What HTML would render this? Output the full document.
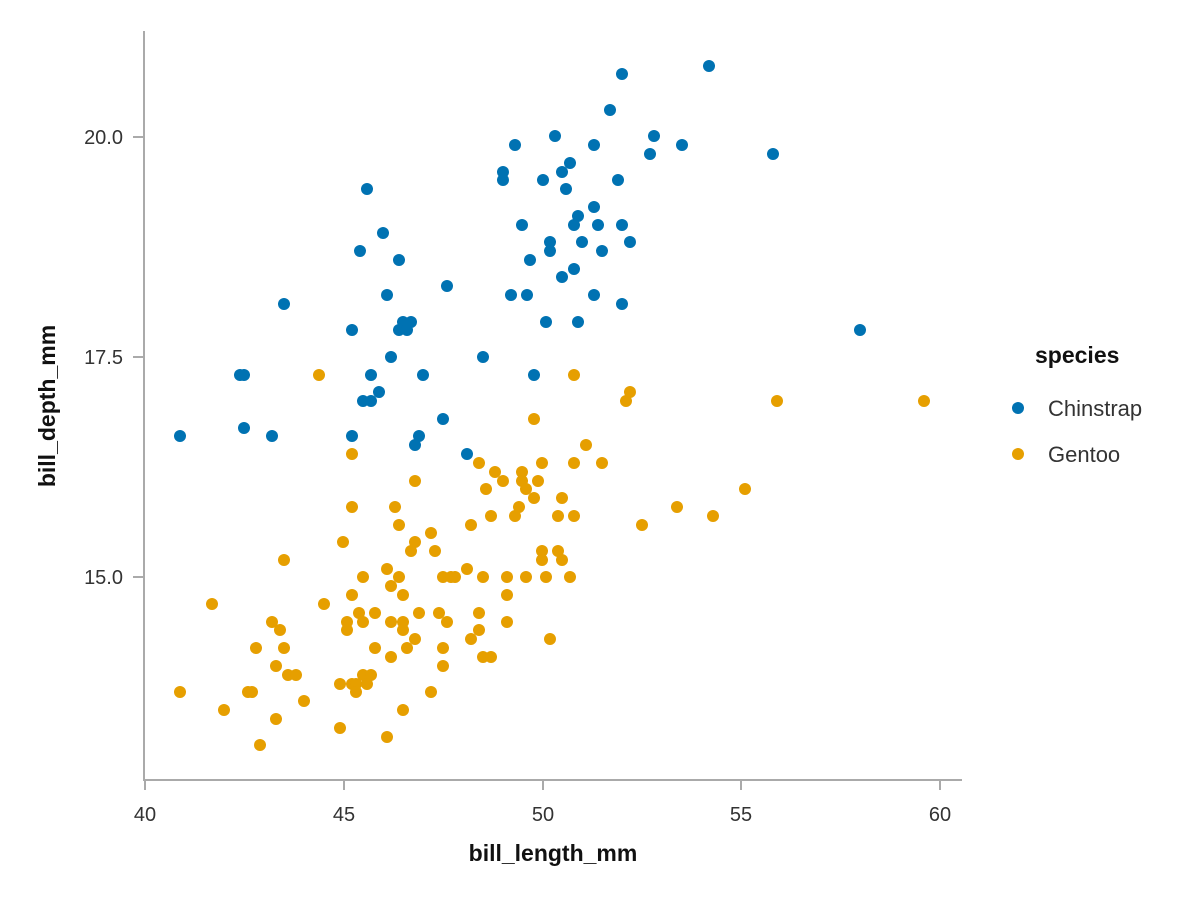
<!DOCTYPE html>
<html><head><meta charset="utf-8"><style>
html,body{margin:0;padding:0;background:#fff;}
svg text{font-family:"Liberation Sans",sans-serif;}
</style></head><body>
<svg width="1200" height="900" viewBox="0 0 1200 900" xmlns="http://www.w3.org/2000/svg">
<g stroke="#aaa" stroke-width="2" fill="none">
<line x1="144" y1="31" x2="144" y2="781"/>
<line x1="144" y1="780" x2="962" y2="780"/>
<line x1="145" y1="780" x2="145" y2="790"/>
<line x1="344" y1="780" x2="344" y2="790"/>
<line x1="543" y1="780" x2="543" y2="790"/>
<line x1="741" y1="780" x2="741" y2="790"/>
<line x1="940" y1="780" x2="940" y2="790"/>
<line x1="133" y1="137" x2="144" y2="137"/>
<line x1="133" y1="357" x2="144" y2="357"/>
<line x1="133" y1="577" x2="144" y2="577"/>
</g>
<g font-size="20" fill="#333" text-anchor="middle">
<text x="145" y="821">40</text><text x="344" y="821">45</text><text x="543" y="821">50</text><text x="741" y="821">55</text><text x="940" y="821">60</text>
</g>
<g font-size="20" fill="#333" text-anchor="end">
<text x="123" y="144">20.0</text><text x="123" y="364">17.5</text><text x="123" y="584">15.0</text>
</g>
<text x="553" y="861" font-size="23" font-weight="bold" text-anchor="middle" fill="#111">bill_length_mm</text>
<text transform="translate(55,406) rotate(-90)" font-size="23" font-weight="bold" text-anchor="middle" fill="#111">bill_depth_mm</text>
<text x="1035" y="363" font-size="23" font-weight="bold" fill="#111">species</text>
<circle cx="1018" cy="408" r="6" fill="#0072B2"/><text x="1048" y="416" font-size="22" fill="#333">Chinstrap</text>
<circle cx="1018" cy="454" r="6" fill="#E69F00"/><text x="1048" y="462" font-size="22" fill="#333">Gentoo</text>
<g fill="#0072B2">
<circle cx="709" cy="66" r="6"/><circle cx="622" cy="74" r="6"/><circle cx="610" cy="110" r="6"/><circle cx="555" cy="136" r="6"/><circle cx="654" cy="136" r="6"/><circle cx="682" cy="145" r="6"/><circle cx="515" cy="145" r="6"/><circle cx="594" cy="145" r="6"/><circle cx="650" cy="154" r="6"/><circle cx="773" cy="154" r="6"/><circle cx="503" cy="172" r="6"/><circle cx="570" cy="163" r="6"/><circle cx="562" cy="172" r="6"/><circle cx="503" cy="180" r="6"/><circle cx="543" cy="180" r="6"/><circle cx="618" cy="180" r="6"/><circle cx="367" cy="189" r="6"/><circle cx="566" cy="189" r="6"/><circle cx="594" cy="207" r="6"/><circle cx="578" cy="216" r="6"/><circle cx="522" cy="225" r="6"/><circle cx="574" cy="225" r="6"/><circle cx="598" cy="225" r="6"/><circle cx="622" cy="225" r="6"/><circle cx="550" cy="242" r="6"/><circle cx="582" cy="242" r="6"/><circle cx="630" cy="242" r="6"/><circle cx="360" cy="251" r="6"/><circle cx="550" cy="251" r="6"/><circle cx="602" cy="251" r="6"/><circle cx="383" cy="233" r="6"/><circle cx="399" cy="260" r="6"/><circle cx="530" cy="260" r="6"/><circle cx="574" cy="269" r="6"/><circle cx="562" cy="277" r="6"/><circle cx="447" cy="286" r="6"/><circle cx="387" cy="295" r="6"/><circle cx="511" cy="295" r="6"/><circle cx="527" cy="295" r="6"/><circle cx="594" cy="295" r="6"/><circle cx="622" cy="304" r="6"/><circle cx="284" cy="304" r="6"/><circle cx="352" cy="330" r="6"/><circle cx="403" cy="322" r="6"/><circle cx="411" cy="322" r="6"/><circle cx="399" cy="330" r="6"/><circle cx="407" cy="330" r="6"/><circle cx="546" cy="322" r="6"/><circle cx="578" cy="322" r="6"/><circle cx="860" cy="330" r="6"/><circle cx="391" cy="357" r="6"/><circle cx="483" cy="357" r="6"/><circle cx="240" cy="375" r="6"/><circle cx="244" cy="375" r="6"/><circle cx="371" cy="375" r="6"/><circle cx="423" cy="375" r="6"/><circle cx="534" cy="375" r="6"/><circle cx="363" cy="401" r="6"/><circle cx="371" cy="401" r="6"/><circle cx="379" cy="392" r="6"/><circle cx="443" cy="419" r="6"/><circle cx="180" cy="436" r="6"/><circle cx="244" cy="428" r="6"/><circle cx="272" cy="436" r="6"/><circle cx="352" cy="436" r="6"/><circle cx="419" cy="436" r="6"/><circle cx="415" cy="445" r="6"/><circle cx="467" cy="454" r="6"/>
</g>
<g fill="#E69F00">
<circle cx="319" cy="375" r="6"/><circle cx="574" cy="375" r="6"/><circle cx="630" cy="392" r="6"/><circle cx="626" cy="401" r="6"/><circle cx="777" cy="401" r="6"/><circle cx="924" cy="401" r="6"/><circle cx="534" cy="419" r="6"/><circle cx="586" cy="445" r="6"/><circle cx="352" cy="454" r="6"/><circle cx="479" cy="463" r="6"/><circle cx="495" cy="472" r="6"/><circle cx="522" cy="472" r="6"/><circle cx="574" cy="463" r="6"/><circle cx="602" cy="463" r="6"/><circle cx="542" cy="463" r="6"/><circle cx="415" cy="481" r="6"/><circle cx="503" cy="481" r="6"/><circle cx="522" cy="481" r="6"/><circle cx="538" cy="481" r="6"/><circle cx="486" cy="489" r="6"/><circle cx="526" cy="489" r="6"/><circle cx="534" cy="498" r="6"/><circle cx="562" cy="498" r="6"/><circle cx="745" cy="489" r="6"/><circle cx="352" cy="507" r="6"/><circle cx="395" cy="507" r="6"/><circle cx="519" cy="507" r="6"/><circle cx="491" cy="516" r="6"/><circle cx="515" cy="516" r="6"/><circle cx="558" cy="516" r="6"/><circle cx="574" cy="516" r="6"/><circle cx="677" cy="507" r="6"/><circle cx="713" cy="516" r="6"/><circle cx="399" cy="525" r="6"/><circle cx="471" cy="525" r="6"/><circle cx="642" cy="525" r="6"/><circle cx="431" cy="533" r="6"/><circle cx="343" cy="542" r="6"/><circle cx="415" cy="542" r="6"/><circle cx="411" cy="551" r="6"/><circle cx="435" cy="551" r="6"/><circle cx="284" cy="560" r="6"/><circle cx="542" cy="551" r="6"/><circle cx="558" cy="551" r="6"/><circle cx="542" cy="560" r="6"/><circle cx="562" cy="560" r="6"/><circle cx="387" cy="569" r="6"/><circle cx="467" cy="569" r="6"/><circle cx="363" cy="577" r="6"/><circle cx="399" cy="577" r="6"/><circle cx="443" cy="577" r="6"/><circle cx="451" cy="577" r="6"/><circle cx="455" cy="577" r="6"/><circle cx="483" cy="577" r="6"/><circle cx="507" cy="577" r="6"/><circle cx="526" cy="577" r="6"/><circle cx="546" cy="577" r="6"/><circle cx="570" cy="577" r="6"/><circle cx="391" cy="586" r="6"/><circle cx="403" cy="595" r="6"/><circle cx="352" cy="595" r="6"/><circle cx="507" cy="595" r="6"/><circle cx="212" cy="604" r="6"/><circle cx="324" cy="604" r="6"/><circle cx="359" cy="613" r="6"/><circle cx="375" cy="613" r="6"/><circle cx="419" cy="613" r="6"/><circle cx="439" cy="613" r="6"/><circle cx="479" cy="613" r="6"/><circle cx="272" cy="622" r="6"/><circle cx="347" cy="622" r="6"/><circle cx="363" cy="622" r="6"/><circle cx="391" cy="622" r="6"/><circle cx="403" cy="622" r="6"/><circle cx="447" cy="622" r="6"/><circle cx="507" cy="622" r="6"/><circle cx="280" cy="630" r="6"/><circle cx="347" cy="630" r="6"/><circle cx="403" cy="630" r="6"/><circle cx="479" cy="630" r="6"/><circle cx="415" cy="639" r="6"/><circle cx="471" cy="639" r="6"/><circle cx="550" cy="639" r="6"/><circle cx="256" cy="648" r="6"/><circle cx="284" cy="648" r="6"/><circle cx="375" cy="648" r="6"/><circle cx="407" cy="648" r="6"/><circle cx="443" cy="648" r="6"/><circle cx="483" cy="657" r="6"/><circle cx="491" cy="657" r="6"/><circle cx="391" cy="657" r="6"/><circle cx="276" cy="666" r="6"/><circle cx="443" cy="666" r="6"/><circle cx="288" cy="675" r="6"/><circle cx="296" cy="675" r="6"/><circle cx="363" cy="675" r="6"/><circle cx="371" cy="675" r="6"/><circle cx="180" cy="692" r="6"/><circle cx="248" cy="692" r="6"/><circle cx="252" cy="692" r="6"/><circle cx="340" cy="684" r="6"/><circle cx="352" cy="684" r="6"/><circle cx="356" cy="684" r="6"/><circle cx="367" cy="684" r="6"/><circle cx="356" cy="692" r="6"/><circle cx="431" cy="692" r="6"/><circle cx="304" cy="701" r="6"/><circle cx="224" cy="710" r="6"/><circle cx="403" cy="710" r="6"/><circle cx="276" cy="719" r="6"/><circle cx="340" cy="728" r="6"/><circle cx="387" cy="737" r="6"/><circle cx="260" cy="745" r="6"/>
</g>
</svg>
</body></html>
